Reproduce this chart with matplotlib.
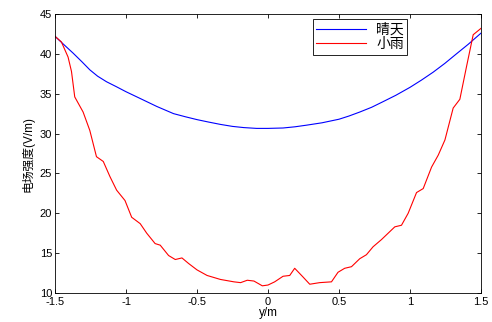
import matplotlib

matplotlib.use("Agg")
import matplotlib.pyplot as plt  # noqa: E402

# 晴天 (clear sky)
y_clear = [-1.5, -1.44, -1.373, -1.31, -1.255, -1.2, -1.137, -1.07, -1.0, -0.9,
           -0.783, -0.665, -0.58, -0.5, -0.42, -0.335, -0.25, -0.17, -0.08, 0.0,
           0.106, 0.19, 0.27, 0.38, 0.5, 0.57, 0.646, 0.73, 0.81, 0.9,
           1.0, 1.08, 1.163, 1.245, 1.327, 1.41, 1.5]
e_clear = [42.2, 41.2, 40.1, 39.0, 38.0, 37.2, 36.5, 35.9, 35.25, 34.4,
           33.4, 32.5, 32.1, 31.75, 31.45, 31.15, 30.9, 30.75, 30.65, 30.65,
           30.7, 30.85, 31.05, 31.35, 31.8, 32.2, 32.7, 33.3, 34.0, 34.8,
           35.8, 36.7, 37.7, 38.8, 40.0, 41.2, 42.6]

# 小雨 (light rain)
y_rain = [-1.5, -1.455, -1.408, -1.384, -1.361, -1.302, -1.255, -1.208, -1.16, -1.113,
          -1.066, -1.007, -0.96, -0.9, -0.854, -0.795, -0.759, -0.7, -0.653, -0.606,
          -0.559, -0.5, -0.429, -0.335, -0.24, -0.193, -0.146, -0.099, -0.04, 0.0,
          0.047, 0.106, 0.153, 0.188, 0.247, 0.294, 0.364, 0.447, 0.493, 0.54,
          0.588, 0.646, 0.693, 0.74, 0.799, 0.846, 0.893, 0.94, 0.987, 1.046,
          1.093, 1.152, 1.199, 1.246, 1.304, 1.351, 1.398, 1.445, 1.5]
e_rain = [42.2, 41.5, 39.6, 37.8, 34.6, 32.7, 30.4, 27.1, 26.5, 24.6,
          22.9, 21.6, 19.5, 18.7, 17.5, 16.2, 16.0, 14.7, 14.2, 14.4,
          13.7, 12.9, 12.2, 11.7, 11.4, 11.3, 11.6, 11.5, 10.9, 11.0,
          11.4, 12.1, 12.2, 13.1, 12.0, 11.1, 11.3, 11.4, 12.6, 13.1,
          13.3, 14.3, 14.8, 15.8, 16.7, 17.5, 18.3, 18.5, 20.0, 22.6,
          23.1, 25.8, 27.3, 29.2, 33.2, 34.3, 38.4, 42.4, 43.2]

x_ticks = [-1.5, -1, -0.5, 0, 0.5, 1, 1.5]
x_ticklabels = ["-1.5", "-1", "-0.5", "0", "0.5", "1", "1.5"]
y_ticks = [10, 15, 20, 25, 30, 35, 40, 45]

plt.rcParams["font.family"] = ["Liberation Sans", "Noto Sans CJK SC", "DejaVu Sans"]
plt.rcParams["font.size"] = 8

fig = plt.figure(figsize=(4.92, 3.22), dpi=100)
ax = fig.add_axes([55 / 492, 1 - 293 / 322, 426 / 492, 279 / 322])

ax.plot(y_clear, e_clear, color="#0000ff", linewidth=0.8, label="晴天")
ax.plot(y_rain, e_rain, color="#ff0000", linewidth=0.8, label="小雨")

ax.set_xlim(-1.5, 1.5)
ax.set_ylim(10, 45)
ax.set_xticks(x_ticks, x_ticklabels)
ax.set_yticks(y_ticks)
ax.tick_params(direction="in", top=True, right=True, length=3, width=0.6)
ax.tick_params(axis="x", pad=3)
ax.tick_params(axis="y", pad=2)
for spine in ax.spines.values():
    spine.set_linewidth(0.6)
ax.set_xlabel("y/m", fontsize=8.5, labelpad=0)
ax.set_ylabel("电场强度(V/m)", fontsize=8.5, labelpad=4)

leg = ax.legend(loc="upper left", bbox_to_anchor=(258 / 426, 0.982), fancybox=False,
                edgecolor="black", framealpha=1, fontsize=10, borderpad=0.25,
                labelspacing=0.05, handlelength=3.6, handletextpad=0.7,
                borderaxespad=0)
leg.get_frame().set_linewidth(0.6)

fig.savefig("out.png", dpi=100)
plt.close(fig)
